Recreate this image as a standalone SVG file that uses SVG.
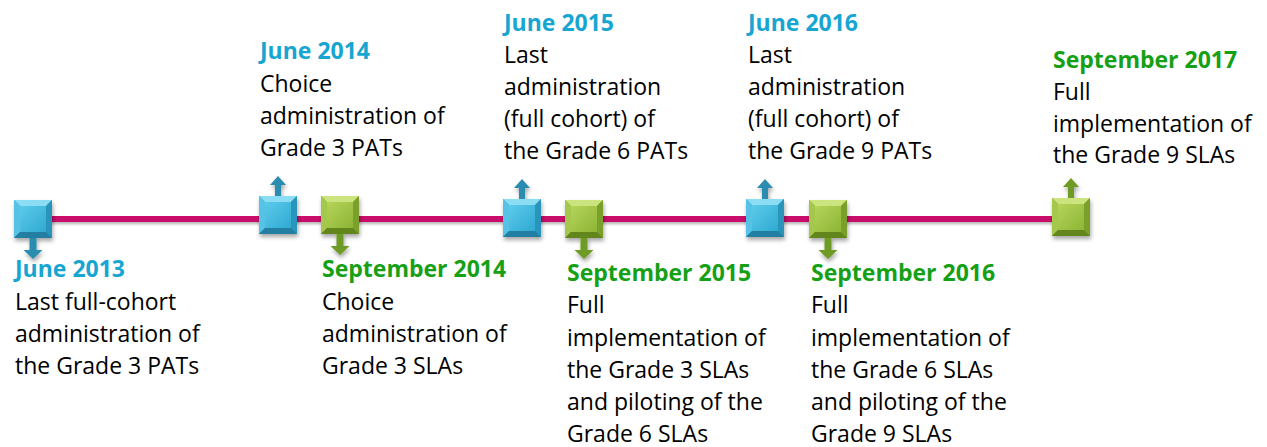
<svg xmlns="http://www.w3.org/2000/svg" width="1267" height="447" viewBox="0 0 1267 447">
<style>
text{font-family:"Open Sans","Liberation Sans",sans-serif;font-size:23px;fill:#000}
.tb{font-weight:bold;fill:#17A5D1}
.tg{font-weight:bold;fill:#15A015}
</style>
<defs>
<filter id="sh" x="-30%" y="-30%" width="160%" height="160%">
<feGaussianBlur in="SourceAlpha" stdDeviation="2"/>
<feOffset dx="1" dy="3"/>
<feComponentTransfer><feFuncA type="linear" slope="0.35"/></feComponentTransfer>
<feMerge><feMergeNode/><feMergeNode in="SourceGraphic"/></feMerge>
</filter>
<filter id="lsh" filterUnits="userSpaceOnUse" x="0" y="200" width="1100" height="40">
<feGaussianBlur in="SourceAlpha" stdDeviation="1.5"/>
<feOffset dx="1" dy="2"/>
<feComponentTransfer><feFuncA type="linear" slope="0.3"/></feComponentTransfer>
<feMerge><feMergeNode/><feMergeNode in="SourceGraphic"/></feMerge>
</filter>
<linearGradient id="bf" x1="0" y1="0" x2="1" y2="1"><stop offset="0" stop-color="#5CCBEA"/><stop offset="1" stop-color="#2FA9D2"/></linearGradient>
<linearGradient id="gf" x1="0" y1="0" x2="1" y2="1"><stop offset="0" stop-color="#B5D45A"/><stop offset="1" stop-color="#8DB535"/></linearGradient>
<g id="bsq">
<rect x="0" y="0" width="38" height="38" fill="#2C9FC6"/>
<polygon points="0,0 38,0 32,6 6,6" fill="#8BDDF3"/>
<polygon points="0,0 6,6 6,32 0,38" fill="#56C3E6"/>
<polygon points="38,0 38,38 32,32 32,6" fill="#2A95BA"/>
<polygon points="0,38 38,38 32,32 6,32" fill="#217FA2"/>
<rect x="6" y="6" width="26" height="26" fill="url(#bf)"/>
</g>
<g id="gsq">
<rect x="0" y="0" width="38" height="38" fill="#7FA52E"/>
<polygon points="0,0 38,0 32,6 6,6" fill="#CBE47E"/>
<polygon points="0,0 6,6 6,32 0,38" fill="#A4C84B"/>
<polygon points="38,0 38,38 32,32 32,6" fill="#7A9F2A"/>
<polygon points="0,38 38,38 32,32 6,32" fill="#62861F"/>
<rect x="6" y="6" width="26" height="26" fill="url(#gf)"/>
</g>
<path id="up" d="M-3,0 V-11 H-8 L0,-20 L8,-11 H3 V0 Z"/>
<path id="dn" d="M-3.5,0 V12 H-9.5 L0,21 L9.5,12 H3.5 V0 Z"/>
</defs>
<g id="connectors">
<rect x="35" y="216" width="1020" height="6" fill="#C90E6B" filter="url(#lsh)"/>
</g>
<g id="n2013" filter="url(#sh)">
<use href="#dn" x="33" y="238" fill="#2A8DB0"/>
<use href="#bsq" x="14" y="200"/>
</g>
<g id="n2014j" filter="url(#sh)">
<use href="#up" x="278" y="196" fill="#2A8DB0"/>
<use href="#bsq" x="259" y="196"/>
</g>
<g id="n2014s" filter="url(#sh)">
<use href="#dn" x="340" y="234" fill="#6E9A25"/>
<use href="#gsq" x="321" y="196"/>
</g>
<g id="n2015j" filter="url(#sh)">
<use href="#up" x="522" y="199" fill="#2A8DB0"/>
<use href="#bsq" x="503" y="199"/>
</g>
<g id="n2015s" filter="url(#sh)">
<use href="#dn" x="584" y="238" fill="#6E9A25"/>
<use href="#gsq" x="565" y="200"/>
</g>
<g id="n2016j" filter="url(#sh)">
<use href="#up" x="765" y="199" fill="#2A8DB0"/>
<use href="#bsq" x="746" y="199"/>
</g>
<g id="n2016s" filter="url(#sh)">
<use href="#dn" x="828" y="238" fill="#6E9A25"/>
<use href="#gsq" x="809" y="200"/>
</g>
<g id="n2017s" filter="url(#sh)">
<use href="#up" x="1071" y="198" fill="#6E9A25"/>
<use href="#gsq" x="1052" y="198"/>
</g>
<g id="l2013">
<text class="tb" x="15" y="277">June 2013</text>
<text x="15" y="310">Last full-cohort</text>
<text x="15" y="342">administration of</text>
<text x="15" y="374">the Grade 3 PATs</text>
</g>
<g id="l2014j">
<text class="tb" x="260" y="59">June 2014</text>
<text x="260" y="92">Choice</text>
<text x="260" y="124">administration of</text>
<text x="260" y="156">Grade 3 PATs</text>
</g>
<g id="l2014s">
<text class="tg" x="322" y="277">September 2014</text>
<text x="322" y="310">Choice</text>
<text x="322" y="342">administration of</text>
<text x="322" y="374">Grade 3 SLAs</text>
</g>
<g id="l2015j">
<text class="tb" x="504" y="31">June 2015</text>
<text x="504" y="63">Last</text>
<text x="504" y="95">administration</text>
<text x="504" y="127">(full cohort) of</text>
<text x="504" y="159">the Grade 6 PATs</text>
</g>
<g id="l2015s">
<text class="tg" x="567" y="281">September 2015</text>
<text x="567" y="313">Full</text>
<text x="567" y="346">implementation of</text>
<text x="567" y="378">the Grade 3 SLAs</text>
<text x="567" y="410">and piloting of the</text>
<text x="567" y="442">Grade 6 SLAs</text>
</g>
<g id="l2016j">
<text class="tb" x="748" y="31">June 2016</text>
<text x="748" y="63">Last</text>
<text x="748" y="95">administration</text>
<text x="748" y="127">(full cohort) of</text>
<text x="748" y="159">the Grade 9 PATs</text>
</g>
<g id="l2016s">
<text class="tg" x="811" y="281">September 2016</text>
<text x="811" y="313">Full</text>
<text x="811" y="346">implementation of</text>
<text x="811" y="378">the Grade 6 SLAs</text>
<text x="811" y="410">and piloting of the</text>
<text x="811" y="442">Grade 9 SLAs</text>
</g>
<g id="l2017s">
<text class="tg" x="1053" y="68">September 2017</text>
<text x="1053" y="100">Full</text>
<text x="1053" y="132">implementation of</text>
<text x="1053" y="163">the Grade 9 SLAs</text>
</g>
</svg>
